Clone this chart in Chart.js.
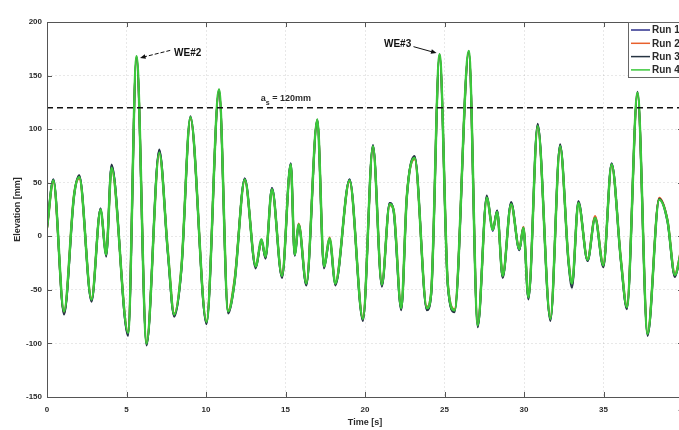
<!DOCTYPE html>
<html lang="en">
<head>
<meta charset="UTF-8">
<title>Surface elevation - repeat runs</title>
<script src="https://cdn.jsdelivr.net/npm/chart.js@4"></script>
<style>
  html, body { margin: 0; padding: 0; background: #fff; overflow: hidden; }
  .chart-box { position: relative; width: 700px; height: 430px; }
</style>
</head>
<body>
<div class="chart-box"><canvas id="elevationChart"></canvas></div>
<script>
// time [s] of each sample, shared by all runs
const timeS = [
  0, 0.4, 1.07, 1.7, 2.03, 2.8, 3.37, 3.72, 4.06, 5.1,
  5.63, 6.26, 7.06, 7.6, 8.0, 8.45, 9.02, 10.03, 10.82, 11.39,
  11.8, 12.44, 13.13, 13.49, 13.74, 14.15, 14.78, 15.33, 15.58, 15.83,
  16.31, 17.0, 17.42, 17.78, 18.13, 19.03, 19.87, 20.5, 21.06, 21.55,
  21.8, 22.28, 22.63, 23.12, 23.89, 24.16, 24.69, 25.21, 25.63, 26.53,
  27.09, 27.66, 28.04, 28.31, 28.66, 29.19, 29.71, 29.96, 30.28, 30.86,
  31.66, 32.27, 32.8, 33.02, 33.42, 34.0, 34.47, 34.99, 35.51, 36.1,
  36.47, 37.14, 37.77, 38.5, 39.03, 39.49, 39.9
];

// surface elevation [mm]
const run1 = [
  8, 53, -72, 37, 56, -60, 26, -18, 66, -92,
  167, -101, 80, -16, -74, -31, 110, -81, 136, -71,
  -43, 54, -29, -4, -20, 45, -38, 68, -18, 10,
  -45, 108, -29, -3, -45, 53, -78, 85, -46, 31,
  23, -68, 36, 74, -68, -54, 169, -46, -70, 172,
  -84, 37, 5, 24, -38, 31, -13, 8, -58, 104,
  -78, 85, -24, -46, 32, -23, 18, -28, 68, -24,
  -67, 133, -92, 35, 13, -37, -12
];
const run2 = [
  7, 51, -71, 39, 54, -58, 25, -16, 63, -89,
  167, -99, 77, -13, -72, -29, 110, -79, 136, -69,
  -39, 52, -27, -5, -18, 43, -36, 66, -16, 12,
  -43, 108, -27, -1, -43, 51, -76, 83, -44, 29,
  25, -66, 38, 72, -66, -52, 169, -44, -68, 172,
  -82, 35, 7, 22, -36, 29, -11, 9, -56, 102,
  -76, 83, -22, -43, 30, -21, 19, -26, 66, -22,
  -65, 133, -90, 36, 15, -35, -11
];
const run3 = [
  8, 53, -73, 38, 57, -61, 26, -19, 67, -93,
  168, -102, 81, -15, -75, -32, 112, -82, 137, -72,
  -42, 54, -30, -3, -21, 45, -39, 68, -18, 11,
  -46, 109, -30, -2, -46, 53, -79, 85, -47, 31,
  24, -69, 37, 75, -69, -55, 170, -46, -71, 173,
  -85, 38, 6, 24, -39, 32, -13, 8, -59, 105,
  -79, 86, -25, -48, 33, -23, 17, -29, 68, -24,
  -68, 135, -93, 35, 14, -38, -13
];
const run4 = [
  8, 52, -70, 38, 55, -59, 25, -17, 64, -90,
  168, -100, 78, -14, -73, -30, 111, -80, 137, -70,
  -42, 53, -28, -3, -19, 44, -37, 67, -17, 11,
  -44, 109, -28, -2, -44, 52, -77, 84, -45, 30,
  24, -67, 37, 73, -67, -53, 170, -45, -69, 173,
  -83, 36, 6, 23, -37, 30, -12, 8, -57, 103,
  -77, 84, -23, -44, 31, -22, 17, -27, 67, -23,
  -66, 134, -91, 34, 14, -36, -12
];

const runLabels = ['Run 1', 'Run 2', 'Run 3', 'Run 4'];
const xTicks = [0, 5, 10, 15, 20, 25, 30, 35, 40];
const yTicks = [-150, -100, -50, 0, 50, 100, 150, 200];
const thresholdMm = 120;

const runColors = ['#2d2f8c', '#e8602c', '#263442', '#3cc83c'];
const runWidths = [2, 2, 2, 2.5];
const FONT = "'Liberation Sans', Arial, sans-serif";
const INK = '#2b2b2b';

// labelled waves: text anchor and arrow in data units
const notes = [
  { text: 'WE#2', tx: 8.85, ty: 171, from: [7.75, 173.5], to: [5.85, 166.5], dashed: true },
  { text: 'WE#3', tx: 22.05, ty: 179, from: [23.05, 177], to: [24.5, 171], dashed: false }
];

function series(values) {
  return values.map((v, i) => ({ x: timeS[i], y: v }));
}

function arrow(ctx, x1, y1, x2, y2, dashed) {
  const ang = Math.atan2(y2 - y1, x2 - x1);
  const head = 6;
  ctx.setLineDash(dashed ? [4, 2] : []);
  ctx.beginPath();
  ctx.moveTo(x1, y1);
  ctx.lineTo(x2 - Math.cos(ang) * head * 0.8, y2 - Math.sin(ang) * head * 0.8);
  ctx.stroke();
  ctx.setLineDash([]);
  ctx.beginPath();
  ctx.moveTo(x2, y2);
  ctx.lineTo(x2 - head * Math.cos(ang - 0.4), y2 - head * Math.sin(ang - 0.4));
  ctx.lineTo(x2 - head * Math.cos(ang + 0.4), y2 - head * Math.sin(ang + 0.4));
  ctx.closePath();
  ctx.fill();
}

// box, inward ticks, threshold line, wave labels and legend
const overlay = {
  id: 'overlay',
  afterDatasetsDraw(chart) {
    const { ctx, chartArea: a, scales: { x, y } } = chart;
    ctx.save();

    // threshold
    const yT = y.getPixelForValue(thresholdMm);
    ctx.strokeStyle = '#111';
    ctx.lineWidth = 1.5;
    ctx.setLineDash([6, 4]);
    ctx.beginPath();
    ctx.moveTo(a.left, yT);
    ctx.lineTo(a.right, yT);
    ctx.stroke();
    ctx.setLineDash([]);

    ctx.font = 'bold 9px ' + FONT;
    ctx.fillStyle = INK;
    ctx.textBaseline = 'alphabetic';
    let tx = x.getPixelForValue(13.45);
    const ty = yT - 7;
    ctx.textAlign = 'left';
    ctx.fillText('a', tx, ty);
    tx += ctx.measureText('a').width;
    ctx.font = 'bold 7px ' + FONT;
    ctx.fillText('s', tx, ty + 4);
    tx += ctx.measureText('s').width;
    ctx.font = 'bold 9px ' + FONT;
    ctx.fillText(' = 120mm', tx, ty);

    // axes frame and inward tick marks
    ctx.strokeStyle = '#555';
    ctx.lineWidth = 1;
    ctx.strokeRect(Math.round(a.left) + 0.5, Math.round(a.top) + 0.5, a.width, Math.round(a.height));
    ctx.beginPath();
    xTicks.forEach(v => {
      const px = Math.round(x.getPixelForValue(v)) + 0.5;
      ctx.moveTo(px, a.bottom); ctx.lineTo(px, a.bottom - 5);
      ctx.moveTo(px, a.top); ctx.lineTo(px, a.top + 5);
    });
    yTicks.forEach(v => {
      const py = Math.round(y.getPixelForValue(v)) + 0.5;
      ctx.moveTo(a.left, py); ctx.lineTo(a.left + 5, py);
      ctx.moveTo(a.right, py); ctx.lineTo(a.right - 5, py);
    });
    ctx.stroke();

    // wave labels
    ctx.font = 'bold 10px ' + FONT;
    ctx.textAlign = 'center';
    ctx.textBaseline = 'middle';
    ctx.strokeStyle = '#111';
    ctx.fillStyle = '#111';
    notes.forEach(n => {
      ctx.fillText(n.text, x.getPixelForValue(n.tx), y.getPixelForValue(n.ty));
      ctx.lineWidth = 1;
      arrow(ctx,
        x.getPixelForValue(n.from[0]), y.getPixelForValue(n.from[1]),
        x.getPixelForValue(n.to[0]), y.getPixelForValue(n.to[1]), n.dashed);
    });

    // legend in the top right corner
    const lx = a.right - 55, ly = a.top, rowH = 13.3;
    ctx.fillStyle = '#fff';
    ctx.fillRect(lx, ly, 80, 55);
    ctx.strokeStyle = '#666';
    ctx.strokeRect(Math.round(lx) + 0.5, ly + 0.5, 80, 55);
    ctx.font = 'bold 10px ' + FONT;
    ctx.textAlign = 'left';
    chart.data.datasets.forEach((ds, i) => {
      const ry = ly + 8 + i * rowH;
      ctx.strokeStyle = ds.borderColor;
      ctx.lineWidth = 1.5;
      ctx.beginPath();
      ctx.moveTo(lx + 3, ry);
      ctx.lineTo(lx + 22, ry);
      ctx.stroke();
      ctx.fillStyle = INK;
      ctx.fillText(ds.label, lx + 24, ry + 0.5);
    });
    ctx.restore();
  }
};

const runs = [run1, run2, run3, run4];

new Chart(document.getElementById('elevationChart'), {
  type: 'line',
  data: {
    datasets: runs.map((vals, i) => ({
      label: runLabels[i],
      data: series(vals),
      borderColor: runColors[i],
      borderWidth: runWidths[i],
      pointRadius: 0,
      fill: false,
      cubicInterpolationMode: 'monotone',
      order: runs.length - i   // Run 4 ends up on top
    }))
  },
  options: {
    responsive: true,
    maintainAspectRatio: false,
    animation: false,
    events: [],
    layout: { padding: { top: 22, right: 17, bottom: 0, left: 0 } },
    plugins: { legend: { display: false }, tooltip: { enabled: false } },
    scales: {
      x: {
        type: 'linear',
        min: 0,
        max: 40,
        afterBuildTicks: s => { s.ticks = xTicks.map(v => ({ value: v })); },
        afterFit: s => { s.height = 33; },
        grid: { color: 'rgba(0,0,0,0.09)', drawTicks: false },
        border: { display: false, dash: [2, 2] },
        ticks: { color: INK, font: { family: FONT, size: 8, weight: 'bold' }, padding: 8, maxRotation: 0 },
        title: { display: true, text: 'Time [s]', color: INK, font: { family: FONT, size: 9, weight: 'bold' }, padding: { top: 0, bottom: 2 } }
      },
      y: {
        min: -150,
        max: 200,
        afterBuildTicks: s => { s.ticks = yTicks.map(v => ({ value: v })); },
        afterFit: s => { s.width = 47; },
        grid: { color: 'rgba(0,0,0,0.09)', drawTicks: false },
        border: { display: false, dash: [2, 2] },
        ticks: { color: INK, font: { family: FONT, size: 8, weight: 'bold' }, padding: 5 },
        title: { display: true, text: 'Elevation [mm]', color: INK, font: { family: FONT, size: 9, weight: 'bold' }, padding: { top: 12, bottom: 0 } }
      }
    }
  },
  plugins: [overlay]
});
</script>
</body>
</html>
